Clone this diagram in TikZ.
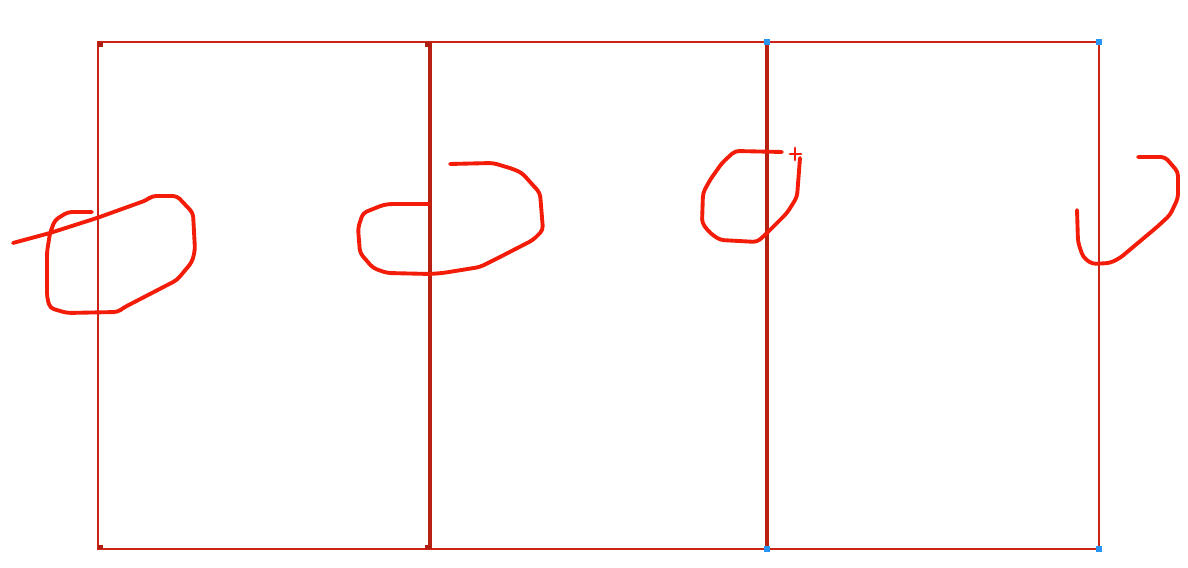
\documentclass[tikz,border=0pt]{standalone}
\usepackage{xcolor}
\usepackage{tikz}
\usetikzlibrary{positioning}
\definecolor{framered}{RGB}{205,35,20}
\definecolor{inkred}{RGB}{242,28,8}
\definecolor{cornerblue}{RGB}{40,150,240}

\begin{document}
\begin{tikzpicture}[x=0.01cm, y=-0.01cm,
    frame/.style={draw=framered, line width=0.75pt},
    divider/.style={draw=framered!90!black, line width=1.2pt},
    scribble/.style={draw=inkred, line width=1.1pt, line join=round, line cap=round, rounded corners=0.04cm},
    cornerdot/.style={fill=cornerblue, minimum size=0.06cm, inner sep=0pt, draw=none}]
    \useasboundingbox[fill=white] (0,0) rectangle (1188,568);

    % frame corners
    \coordinate (tl) at (98,42);
    \coordinate (br) at (1099,549);
    \coordinate (d1top) at (430,42);
    \coordinate (d1bot) at (430,549);
    \coordinate (d2top) at (767,42);
    \coordinate (d2bot) at (767,549);
    \coordinate (tr) at (1099,42);
    \coordinate (bl) at (98,549);

    \draw[frame] (tl) rectangle (br);
    \draw[divider] (d1top) -- (d1bot);
    \draw[divider] (d2top) -- (d2bot);

    % corner handles
    \fill[framered!85!black] (tl) rectangle ++(5,5);
    \fill[framered!85!black] (bl) rectangle ++(5,-4);
    \fill[framered!85!black] (d1top) rectangle ++(-5,5);
    \fill[framered!85!black] (d1bot) rectangle ++(-5,-4);
    \foreach \c in {d2top,d2bot,tr,br}
        \node[cornerdot] at (\c) {};

    % scribble 1
    \draw[scribble] (13,243) -- (50,233) -- (97,218) -- (147,200) -- (152,196)
        -- (177,196) -- (193,213) -- (195,250) -- (192,262) -- (177,280)
        -- (123,308) -- (118,312) -- (67,313) -- (50,308) -- (47,297)
        -- (47,252) -- (50,233) -- (55,220) -- (68,212) -- (92,212);

    % scribble 2
    \draw[scribble] (450,164) -- (493,163) -- (513,169) -- (522,173) -- (540,193)
        -- (543,230) -- (533,240) -- (500,257) -- (480,267) -- (443,273)
        -- (430,274) -- (387,273) -- (373,268) -- (360,253) -- (358,228)
        -- (363,213) -- (383,205) -- (390,204) -- (429,204);

    % scribble 3
    \draw[scribble] (782,152) -- (735,151) -- (722,163) -- (710,180) -- (703,193)
        -- (702,223) -- (710,233) -- (720,240) -- (757,242) -- (765,235)
        -- (787,213) -- (797,197) -- (800,158);
    \draw[scribble, line width=0.8pt] (790,154) -- (801,154) (795,148) -- (795,160);

    % scribble 4
    \draw[scribble] (1138,157) -- (1165,157) -- (1178,172) -- (1178,198)
        -- (1170,215) -- (1157,227) -- (1120,258) -- (1110,263) -- (1092,264)
        -- (1083,257) -- (1078,242) -- (1077,210);
\end{tikzpicture}
\end{document}
